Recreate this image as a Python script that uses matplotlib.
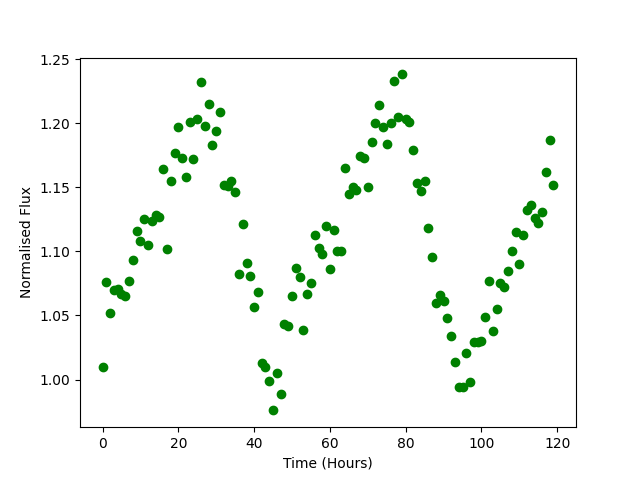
import numpy as np
import matplotlib
matplotlib.use("Agg")
import matplotlib.pyplot as plt

# hourly samples, normalised flux
hours = np.arange(120)
flux = [
    1.010, 1.076, 1.052, 1.070, 1.071, 1.067, 1.065, 1.077, 1.093, 1.116,
    1.108, 1.125, 1.105, 1.124, 1.128, 1.127, 1.164, 1.102, 1.155, 1.177,
    1.197, 1.173, 1.158, 1.201, 1.172, 1.203, 1.232, 1.198, 1.215, 1.183,
    1.194, 1.209, 1.152, 1.151, 1.155, 1.146, 1.082, 1.121, 1.091, 1.081,
    1.057, 1.068, 1.013, 1.010, 0.999, 0.976, 1.005, 0.989, 1.043, 1.042,
    1.065, 1.087, 1.080, 1.039, 1.067, 1.075, 1.113, 1.103, 1.098, 1.120,
    1.086, 1.117, 1.100, 1.100, 1.165, 1.145, 1.150, 1.148, 1.174, 1.173,
    1.150, 1.185, 1.200, 1.214, 1.197, 1.184, 1.200, 1.233, 1.205, 1.238,
    1.203, 1.201, 1.179, 1.153, 1.147, 1.155, 1.118, 1.096, 1.060, 1.066,
    1.061, 1.048, 1.034, 1.014, 0.994, 0.994, 1.021, 0.998, 1.029, 1.029,
    1.030, 1.049, 1.077, 1.038, 1.055, 1.075, 1.072, 1.085, 1.100, 1.115,
    1.090, 1.113, 1.132, 1.136, 1.126, 1.122, 1.131, 1.162, 1.187, 1.152,
]

plt.figure(figsize=(6.4, 4.8), dpi=100)
plt.plot(hours, flux, 'go')
plt.xlabel("Time (Hours)")
plt.ylabel("Normalised Flux")
plt.savefig("out.png")
